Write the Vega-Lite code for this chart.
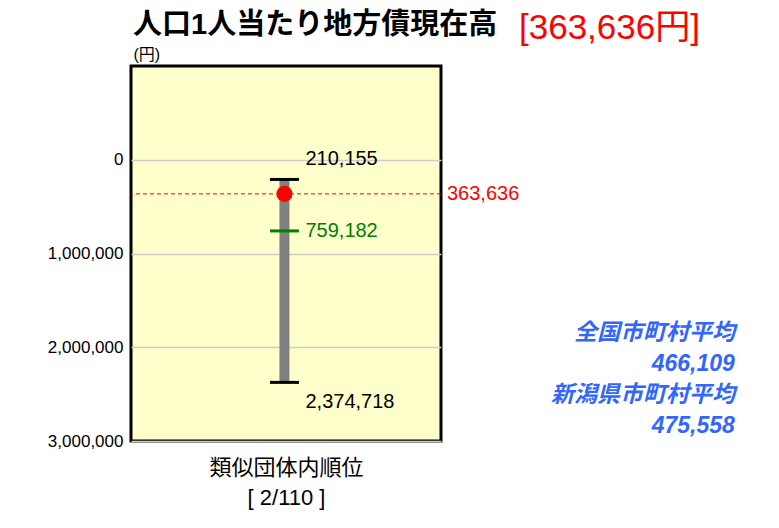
{
  "$schema": "https://vega.github.io/schema/vega-lite/v6.json",
  "autosize": {"type": "none"},
  "width": 310,
  "height": 375,
  "padding": {"left": 131, "top": 66, "right": 338, "bottom": 87},
  "background": "white",
  "data": {"values": [{"min": 210155, "max": 2374718, "value": 363636, "mean": 759182, "national": 466109, "pref": 475558}]},
  "config": {
    "view": {"fill": "#FFFFCC", "stroke": "black", "strokeWidth": 3},
    "axis": {"labelFont": "Liberation Sans", "labelFontSize": 17, "labelColor": "black", "gridColor": "#cccccc", "gridWidth": 1.5, "ticks": false, "domain": false, "labelPadding": 8, "titleFont": "Liberation Sans, Noto Sans CJK JP", "titleColor": "black", "titleFontWeight": "normal"}
  },
  "layer": [
    {
      "mark": {"type": "rule", "color": "red", "strokeDash": [4, 3], "strokeWidth": 1},
      "encoding": {
        "y": {"field": "value", "type": "quantitative", "scale": {"domain": [-1000000, 3000000], "reverse": true, "nice": false, "zero": false},
          "axis": {"values": [0, 1000000, 2000000, 3000000], "format": ",d", "grid": true, "title": "(円)", "titleAngle": 0, "titleAlign": "left", "titleBaseline": "alphabetic", "titleX": 2, "titleY": -7, "titleFontSize": 16}}
      }
    },
    {
      "mark": {"type": "rule", "color": "#808080", "strokeWidth": 10},
      "encoding": {
        "x": {"datum": 0.495, "type": "quantitative", "scale": {"domain": [0, 1], "nice": false, "zero": false},
          "axis": {"title": ["類似団体内順位", "[ 2/110 ]"], "labels": false, "grid": false, "titleFontSize": 22, "titlePadding": 16, "titleLineHeight": 30}},
        "y": {"field": "min", "type": "quantitative"},
        "y2": {"field": "max"}
      }
    },
    {
      "mark": {"type": "tick", "orient": "horizontal", "color": "black", "size": 29, "thickness": 3, "opacity": 1},
      "encoding": {
        "x": {"datum": 0.495, "type": "quantitative"},
        "y": {"field": "min", "type": "quantitative"}
      }
    },
    {
      "mark": {"type": "tick", "orient": "horizontal", "color": "black", "size": 29, "thickness": 3, "opacity": 1},
      "encoding": {
        "x": {"datum": 0.495, "type": "quantitative"},
        "y": {"field": "max", "type": "quantitative"}
      }
    },
    {
      "mark": {"type": "tick", "orient": "horizontal", "color": "#008000", "size": 29, "thickness": 3, "opacity": 1},
      "encoding": {
        "x": {"datum": 0.495, "type": "quantitative"},
        "y": {"field": "mean", "type": "quantitative"}
      }
    },
    {
      "mark": {"type": "circle", "color": "red", "size": 260, "opacity": 1},
      "encoding": {
        "x": {"datum": 0.495, "type": "quantitative"},
        "y": {"field": "value", "type": "quantitative"}
      }
    },
    {
      "mark": {"type": "text", "align": "left", "baseline": "middle", "dx": 21, "dy": -20, "fontSize": 20, "font": "Liberation Sans", "color": "black"},
      "encoding": {
        "x": {"datum": 0.495, "type": "quantitative"},
        "y": {"field": "min", "type": "quantitative"},
        "text": {"field": "min", "type": "quantitative", "format": ",d"}
      }
    },
    {
      "mark": {"type": "text", "align": "left", "baseline": "middle", "dx": 21, "dy": 20, "fontSize": 20, "font": "Liberation Sans", "color": "black"},
      "encoding": {
        "x": {"datum": 0.495, "type": "quantitative"},
        "y": {"field": "max", "type": "quantitative"},
        "text": {"field": "max", "type": "quantitative", "format": ",d"}
      }
    },
    {
      "mark": {"type": "text", "align": "left", "baseline": "middle", "dx": 21, "fontSize": 20, "font": "Liberation Sans", "color": "#008000"},
      "encoding": {
        "x": {"datum": 0.495, "type": "quantitative"},
        "y": {"field": "mean", "type": "quantitative"},
        "text": {"field": "mean", "type": "quantitative", "format": ",d"}
      }
    },
    {
      "mark": {"type": "text", "align": "left", "baseline": "middle", "dx": 6, "fontSize": 20, "font": "Liberation Sans", "color": "red"},
      "encoding": {
        "x": {"datum": 1, "type": "quantitative"},
        "y": {"field": "value", "type": "quantitative"},
        "text": {"field": "value", "type": "quantitative", "format": ",d"}
      }
    },
    {
      "mark": {"type": "text", "align": "left", "baseline": "middle", "dx": 2, "fontSize": 29, "fontWeight": "bold", "font": "Liberation Sans, Noto Sans CJK JP", "color": "black", "text": "人口1人当たり地方債現在高"},
      "encoding": {
        "x": {"datum": 0, "type": "quantitative"},
        "y": {"datum": -1440000, "type": "quantitative"}
      }
    },
    {
      "mark": {"type": "text", "align": "left", "baseline": "middle", "fontSize": 35, "font": "Liberation Sans, Noto Sans CJK JP", "color": "red", "text": "[363,636円]"},
      "encoding": {
        "x": {"datum": 1.2516, "type": "quantitative"},
        "y": {"datum": -1408000, "type": "quantitative"}
      }
    },
    {
      "mark": {"type": "text", "align": "right", "baseline": "middle", "fontSize": 23, "fontWeight": "bold", "fontStyle": "italic", "lineHeight": 31, "font": "Liberation Sans, Noto Sans CJK JP", "color": "#3366FF", "text": ["全国市町村平均", "466,109", "新潟県市町村平均", "475,558"]},
      "encoding": {
        "x": {"datum": 1.948, "type": "quantitative"},
        "y": {"datum": 1845333, "type": "quantitative"}
      }
    }
  ]
}
